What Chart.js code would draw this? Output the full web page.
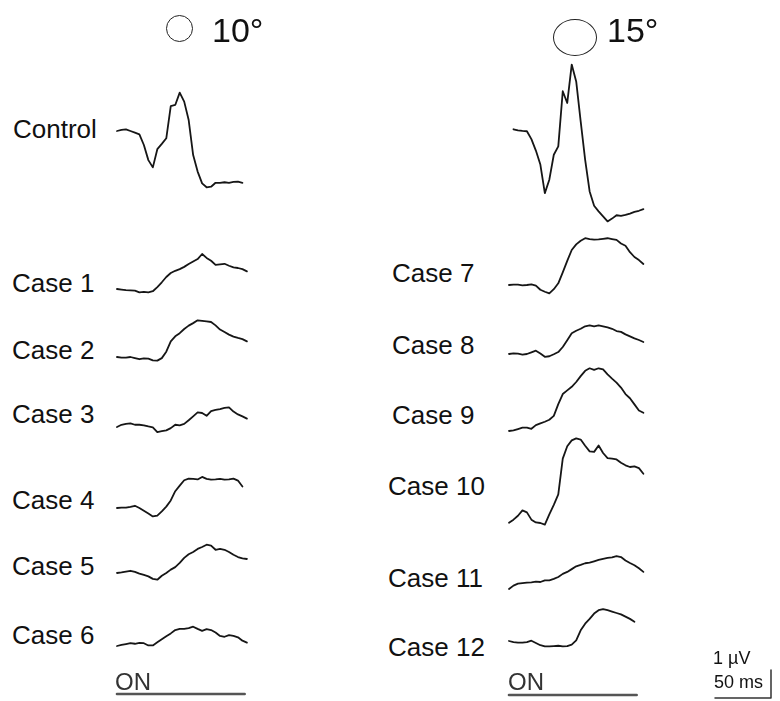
<!DOCTYPE html>
<html>
<head>
<meta charset="utf-8">
<script src="https://cdn.jsdelivr.net/npm/chart.js@4.4.1/dist/chart.umd.min.js"></script>
<style>
  html, body { margin: 0; padding: 0; background: #fff; }
  #fig { position: relative; width: 780px; height: 701px; overflow: hidden;
         font-family: "Liberation Sans", Arial, sans-serif; color: #111; }
  #fig canvas { position: absolute; top: 0; }
  .txt { position: absolute; white-space: nowrap; line-height: 1; }
  .ring { position: absolute; border: 1.6px solid #222; border-radius: 50%; box-sizing: border-box; }
</style>
</head>
<body>
<div id="fig">
  <canvas id="leftChart" width="160" height="701" style="left:100px"></canvas>
  <canvas id="rightChart" width="285" height="701" style="left:495px"></canvas>
</div>
<script>
// sample times (ms after stimulus onset)
const timesMs = [0, 4, 8, 12, 16, 20, 24, 28, 32, 36, 40, 44, 48, 52, 56, 60,
                 64, 68, 72, 76, 80, 84, 88, 92, 96, 100, 104, 108, 112, 116, 120];

// 10 degree stimulus, amplitudes in µV relative to each trace's start
const leftNames = ['Control', 'Case 1', 'Case 2', 'Case 3', 'Case 4', 'Case 5', 'Case 6'];
const control10 = [0, 0.04, 0.06, 0, -0.06, -0.12, -0.5, -1.04, -1.30, -0.65, -0.46, -0.26, 0.89, 0.93, 1.37, 1.05,
                   0.39, -0.86, -1.45, -1.87, -2.01, -1.99, -1.85, -1.85, -1.83, -1.85, -1.82, -1.81, -1.85, null, null];
const case1 = [0, -0.02, -0.04, -0.05, -0.06, -0.12, -0.10, -0.12, -0.08, 0.07, 0.24, 0.43, 0.57, 0.65, 0.71, 0.79,
               0.89, 0.98, 1.07, 1.25, 1.11, 1.01, 0.86, 0.88, 0.90, 0.83, 0.77, 0.75, 0.71, 0.63, null];
const case2 = [0, -0.02, -0.02, 0, -0.04, -0.08, -0.05, -0.06, -0.12, -0.13, -0.04, 0.19, 0.56, 0.74, 0.85, 1.0,
               1.12, 1.21, 1.31, 1.29, 1.27, 1.25, 1.13, 0.98, 0.89, 0.80, 0.73, 0.68, 0.64, 0.56, null];
const case3 = [0, 0.08, 0.11, 0.13, 0.08, 0.08, 0.06, 0.02, -0.01, -0.18, -0.15, -0.12, -0.04, 0.08, 0.06, 0.11,
               0.24, 0.38, 0.52, 0.50, 0.40, 0.57, 0.61, 0.64, 0.68, 0.70, 0.55, 0.45, 0.38, 0.30, null];
const case4 = [0, 0.01, 0.01, 0.04, 0.08, 0, -0.10, -0.20, -0.30, -0.27, -0.12, 0.05, 0.27, 0.60, 0.80, 0.99,
               1.05, 1.04, 1.02, 1.11, 1.04, 1.01, 1.02, 1.04, 1.01, 1.02, 1.05, 0.98, 0.77, null, null];
const case5 = [0, 0.02, 0.05, 0.08, 0.04, -0.02, -0.07, -0.12, -0.21, -0.24, -0.10, 0, 0.12, 0.21, 0.36, 0.54,
               0.67, 0.75, 0.86, 0.93, 1.01, 0.98, 0.83, 0.86, 0.83, 0.75, 0.65, 0.57, 0.52, 0.50, null];
const case6 = [0, 0.04, 0.07, 0.10, 0.08, 0.11, 0.10, 0.02, 0.02, 0.13, 0.24, 0.35, 0.45, 0.57, 0.61, 0.61,
               0.64, 0.69, 0.61, 0.54, 0.60, 0.57, 0.48, 0.36, 0.33, 0.39, 0.36, 0.31, 0.19, 0.12, null];

// 15 degree stimulus
const rightNames = ['', 'Case 7', 'Case 8', 'Case 9', 'Case 10', 'Case 11', 'Case 12'];
const control15 = [null, -0.01, -0.05, -0.07, -0.08, -0.36, -0.77, -1.27, -2.29, -1.81, -0.92, -0.62, 1.35, 0.93, 2.30, 1.70,
                   0.27, -1.10, -2.23, -2.74, -2.94, -3.12, -3.30, -3.20, -3.08, -3.10, -3.07, -3.02, -2.96, -2.92, -2.86];
const case7 = [0, 0.01, 0.01, -0.01, 0, 0.02, -0.02, -0.17, -0.24, -0.30, -0.15, 0.06, 0.45, 0.86, 1.25, 1.45,
               1.58, 1.67, 1.64, 1.62, 1.63, 1.65, 1.67, 1.64, 1.61, 1.48, 1.40, 1.17, 1.00, 0.89, 0.75];
const case8 = [0, 0.02, 0.01, -0.02, 0, 0.06, 0.12, 0.02, -0.10, -0.08, -0.01, 0.07, 0.25, 0.49, 0.74, 0.83,
               0.90, 0.99, 1.02, 0.99, 1.02, 0.99, 0.95, 0.90, 0.82, 0.79, 0.70, 0.63, 0.56, 0.50, 0.43];
const case9 = [0, 0.02, 0.07, 0.12, 0.12, 0.08, 0.21, 0.27, 0.33, 0.40, 0.54, 0.96, 1.32, 1.45, 1.58, 1.75,
               1.96, 2.15, 2.24, 2.18, 2.24, 2.20, 2.02, 1.87, 1.73, 1.55, 1.32, 1.17, 0.95, 0.73, 0.65];
const case10 = [0.01, 0.12, 0.26, 0.45, 0.38, 0.12, 0.02, 0, -0.06, 0.31, 0.65, 1.02, 2.30, 2.74, 2.95, 3.02,
                2.98, 2.76, 2.56, 2.54, 2.77, 2.50, 2.32, 2.30, 2.27, 2.15, 2.06, 2.00, 2.02, 1.96, 1.76];
const case11 = [0, 0.12, 0.19, 0.21, 0.23, 0.24, 0.26, 0.25, 0.31, 0.31, 0.36, 0.43, 0.54, 0.61, 0.71, 0.81,
                0.86, 0.92, 0.94, 0.99, 1.04, 1.08, 1.11, 1.13, 1.17, 1.14, 1.02, 0.93, 0.85, 0.74, 0.61];
const case12 = [0, -0.04, -0.06, -0.06, -0.04, 0.01, -0.07, -0.15, -0.19, -0.19, -0.18, -0.17, -0.19, -0.18, -0.13, 0.02,
                0.38, 0.62, 0.79, 0.98, 1.10, 1.14, 1.10, 1.05, 1.00, 0.95, 0.87, 0.79, 0.69, null, null];

// stimulus "ON" period and calibration bar
const stimulusMs = [0, 114];
const calibration = { ms: 50, uV: 1 };

// ---- layout (pixels) ----
const H = 701;
const PX_PER_MS = 1.12;
const PX_PER_UV = 28;
const LEFT = { canvas: 'leftChart', left: 100, width: 160, x0: 117,
               rows: [131, 289, 357, 427, 508, 573, 646], onRow: 694 };
const RIGHT = { canvas: 'rightChart', left: 495, width: 285, x0: 509,
                rows: [129, 285, 354, 431, 523, 589, 641], onRow: 695, calCorner: [771, 698] };

const pxToUv = p => -p / PX_PER_UV;

function traceDataset(values, rowPx) {
    const base = pxToUv(rowPx);
    return {
        data: timesMs.map((t, i) => ({ x: t, y: values[i] == null ? null : base + values[i] })),
        borderColor: '#161616',
        borderWidth: 1.8,
        spanGaps: false
    };
}

function buildChart(cfg, traces) {
    const xMin = -(cfg.x0 - cfg.left) / PX_PER_MS;
    const xMax = xMin + cfg.width / PX_PER_MS;
    const datasets = traces.map((vals, i) => traceDataset(vals, cfg.rows[i]));

    // ON bar under the column
    datasets.push({
        data: stimulusMs.map(t => ({ x: t, y: pxToUv(cfg.onRow) })),
        borderColor: '#555',
        borderWidth: 2.6
    });

    if (cfg.calCorner) {
        const tc = xMin + (cfg.calCorner[0] - cfg.left) / PX_PER_MS;
        const yc = pxToUv(cfg.calCorner[1]);
        datasets.push({
            data: [
                { x: tc - calibration.ms, y: yc },
                { x: tc, y: yc },
                { x: tc, y: yc + calibration.uV }
            ],
            borderColor: '#333',
            borderWidth: 1.5
        });
    }

    return new Chart(document.getElementById(cfg.canvas), {
        type: 'line',
        data: { datasets },
        options: {
            responsive: false,
            animation: false,
            devicePixelRatio: 1,
            layout: { padding: 0 },
            elements: {
                point: { radius: 0 },
                line: { tension: 0, borderJoinStyle: 'round', borderCapStyle: 'round' }
            },
            plugins: { legend: { display: false }, tooltip: { enabled: false } },
            scales: {
                x: { type: 'linear', display: false, min: xMin, max: xMax },
                y: { type: 'linear', display: false, min: -H / PX_PER_UV, max: 0 }
            }
        }
    });
}

buildChart(LEFT, [control10, case1, case2, case3, case4, case5, case6]);
buildChart(RIGHT, [control15, case7, case8, case9, case10, case11, case12]);

// ---- text ----
const fig = document.getElementById('fig');

function addText(str, x, baseline, size, color) {
    const d = document.createElement('div');
    d.className = 'txt';
    d.textContent = str;
    d.style.left = x + 'px';
    d.style.top = (baseline - 0.8465 * size) + 'px';
    d.style.fontSize = size + 'px';
    if (color) d.style.color = color;
    fig.appendChild(d);
}

function addRing(cx, cy, w, h) {
    const r = document.createElement('div');
    r.className = 'ring';
    r.style.left = (cx - w / 2) + 'px';
    r.style.top = (cy - h / 2) + 'px';
    r.style.width = w + 'px';
    r.style.height = h + 'px';
    fig.appendChild(r);
}

addRing(179, 28, 27, 27);
addText('10°', 212, 42, 34);
addRing(575, 37, 44, 37);
addText('15°', 607, 42, 34);

const leftLabelPos = [[13, 138], [12, 292], [12, 359], [12, 423], [12, 509], [12, 575], [12, 644]];
const rightLabelPos = [null, [392, 282], [392, 354], [392, 424], [388, 495], [388, 587], [388, 656]];
leftNames.forEach((n, i) => addText(n, leftLabelPos[i][0], leftLabelPos[i][1], 26));
rightNames.forEach((n, i) => { if (n) addText(n, rightLabelPos[i][0], rightLabelPos[i][1], 26); });

addText('ON', 115, 690, 24, '#333');
addText('ON', 508, 690, 24, '#333');
addText('1 µV', 713, 664, 18);
addText('50 ms', 714, 688, 18);
</script>
</body>
</html>
